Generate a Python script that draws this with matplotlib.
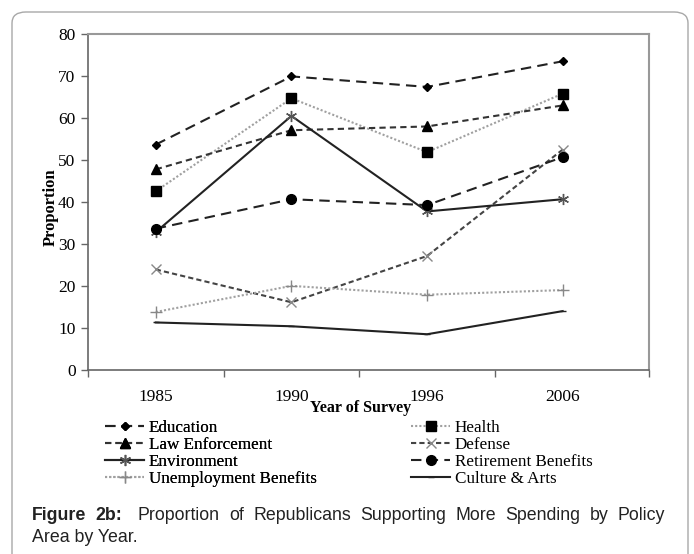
import matplotlib
matplotlib.use("Agg")
import matplotlib.pyplot as plt
from matplotlib.patches import FancyBboxPatch

years = ["1985", "1990", "1996", "2006"]
education = [53.6, 69.8, 67.3, 73.4]
health = [42.5, 64.6, 51.8, 65.7]
law = [47.7, 57.0, 57.9, 62.9]
defense = [23.9, 16.1, 27.1, 52.4]
environment = [32.8, 60.4, 37.7, 40.6]
retirement = [33.6, 40.6, 39.2, 50.6]
unemployment = [13.8, 20.0, 17.9, 19.0]
culture = [11.3, 10.4, 8.5, 14.0]
yticks = [0, 10, 20, 30, 40, 50, 60, 70, 80]

W, H = 694, 554
fig = plt.figure(figsize=(W / 100, H / 100), dpi=100)
serif = "Liberation Serif"
sans = "Liberation Sans"

# rounded border
border = FancyBboxPatch((12 / W, -0.05), (688 - 12) / W, (H - 12) / H + 0.05,
                        boxstyle="round,pad=0,rounding_size=0.02",
                        transform=fig.transFigure, fill=False,
                        edgecolor="#a8a8a8", lw=1.0)
fig.patches.append(border)

ax = fig.add_axes([88 / W, (H - 370) / H, (649 - 88) / W, (370 - 33.5) / H])
x = list(range(len(years)))

series = [
    ("Education", education, dict(color="#222222", ls=(0, (5, 3)), marker="D", ms=4.5, mfc="black", mec="black")),
    ("Health", health, dict(color="#a0a0a0", ls=(0, (1, 1)), marker="s", ms=7, mfc="black", mec="black")),
    ("Law Enforcement", law, dict(color="#333333", ls=(0, (3, 2)), marker="^", ms=6.5, mfc="black", mec="black")),
    ("Defense", defense, dict(color="#444444", ls=(0, (2.5, 1.5)), marker="x", ms=7, mfc="#888888", mec="#888888", mew=1.0)),
    ("Environment", environment, dict(color="#222222", ls="-", marker=(6, 2, 0), ms=8, mec="#555555", mew=1.0)),
    ("Retirement Benefits", retirement, dict(color="#222222", ls=(0, (5, 3)), marker="o", ms=7, mfc="black", mec="black")),
    ("Unemployment Benefits", unemployment, dict(color="#a0a0a0", ls=(0, (1, 1)), marker="+", ms=8, mec="#888888", mew=1.0)),
    ("Culture & Arts", culture, dict(color="#222222", ls="-", marker="_", ms=5, mec="#222222", mew=1.0)),
]

handles = {}
for name, vals, st in series:
    ln, = ax.plot(x, vals, lw=1.5, label=name, **st)
    handles[name] = ln

ax.set_ylim(0, 80)
ax.set_xlim(-0.5, 3.5 + (649 - 630.5) / 135.5)
ax.set_yticks(yticks)
ax.set_yticklabels([str(v) for v in yticks], fontfamily=serif, fontsize=12.5)
ax.set_xticks([-0.5, 0.5, 1.5, 2.5, ax.get_xlim()[1]])
ax.set_xticklabels([])
ax.set_xticks(x, minor=True)
ax.set_xticklabels(years, minor=True, fontfamily=serif, fontsize=12.5)
ax.tick_params(axis="x", which="minor", length=0, pad=14)
ax.tick_params(axis="y", which="major", pad=4)
ax.tick_params(axis="both", which="major", direction="out", length=5, color="#666666", width=1)
for s in ["left", "bottom"]:
    ax.spines[s].set_color("#666666")
    ax.spines[s].set_linewidth(1.2)
for s in ["top", "right"]:
    ax.spines[s].set_color("#999999")
    ax.spines[s].set_linewidth(1.5)

fig.text(310 / W, 1 - 408 / H, "Year of Survey", fontfamily=serif, fontweight="bold",
         fontsize=11.5, ha="left", va="center")
fig.text(51 / W, 1 - 207 / H, "Proportion", fontfamily=serif, fontweight="bold",
         fontsize=12, ha="center", va="center", rotation=90)

left_names = ["Education", "Law Enforcement", "Environment", "Unemployment Benefits"]
right_names = ["Health", "Defense", "Retirement Benefits", "Culture & Arts"]
legkw = dict(loc="upper left", frameon=False, prop={"family": serif, "size": 12.3},
             handlelength=2.3, handletextpad=0.25, labelspacing=0.06,
             borderpad=0, borderaxespad=0)
leg1 = fig.legend([handles[n] for n in left_names], left_names,
                  bbox_to_anchor=(105 / W, 1 - 420 / H), **legkw)
fig.add_artist(leg1)
leg2 = fig.legend([handles[n] for n in right_names], right_names,
                  bbox_to_anchor=(411 / W, 1 - 420 / H), **legkw)

# caption (justified first line)
renderer = fig.canvas.get_renderer()
cap_size = 12.8
line1 = [("Figure", True), ("2b:", True), ("Proportion", False), ("of", False),
         ("Republicans", False), ("Supporting", False), ("More", False),
         ("Spending", False), ("by", False), ("Policy", False)]
x0, x1 = 32, 665
y1 = 1 - 516 / H
texts = []
widths = []
for word, bold in line1:
    t = fig.text(0, y1, word, fontfamily=sans, fontweight="bold" if bold else "normal",
                 fontsize=cap_size, ha="left", va="center", color="#222222")
    texts.append(t)
    widths.append(t.get_window_extent(renderer).width)
extra = 6
gap = (x1 - x0 - sum(widths) - extra) / (len(line1) - 1)
pos = x0
for i, (t, w) in enumerate(zip(texts, widths)):
    t.set_x(pos / W)
    pos += w + gap + (extra if i == 1 else 0)
fig.text(x0 / W, 1 - 537 / H, "Area by Year.", fontfamily=sans, fontsize=cap_size,
         ha="left", va="center", color="#222222")

fig.savefig("out.png", dpi=100)
